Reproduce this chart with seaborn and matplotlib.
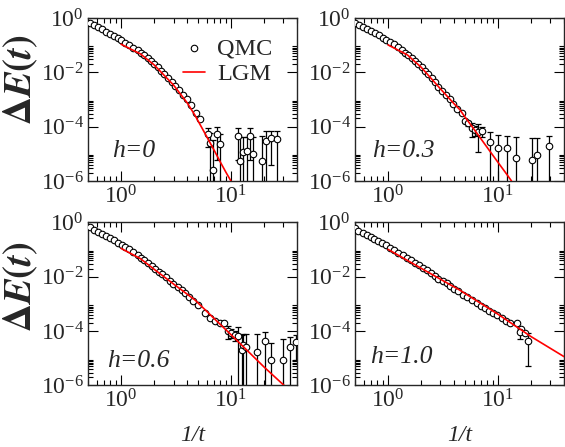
import numpy as np
import matplotlib
matplotlib.use("Agg")
import matplotlib.pyplot as plt
from matplotlib.ticker import FixedLocator, LogLocator, LogFormatterMathtext, NullFormatter
import seaborn as sns

# QMC data (1/t, Delta E, error) and LGM curves

# h = 0
qmc_x_h0 = [0.523, 0.572, 0.622, 0.676, 0.731, 0.794, 0.864, 0.933, 1.0, 1.087, 1.18, 1.29, 1.42, 1.52, 1.63,
            1.75, 1.87, 2.01, 2.15, 2.31, 2.48, 2.69, 2.89, 3.10, 3.37, 3.66, 3.95, 4.33, 4.77, 5.19,
            6.14, 6.44, 6.90, 7.46, 7.94, 11.5, 12.1, 12.9, 13.9, 14.9, 16.0, 19.0, 20.7, 23.1, 26.2]
qmc_y_h0 = [0.637, 0.538, 0.454, 0.383, 0.315, 0.265, 0.224, 0.189, 0.151, 0.124, 0.102, 0.081, 0.0648, 0.0517, 0.0424,
            0.0329, 0.0262, 0.0198, 0.0154, 0.0116, 0.00849, 0.00605, 0.00431, 0.00316, 0.00219, 0.00148, 0.00102, 6.3e-4, 3.1e-4, 1.94e-4,
            5.3e-5, 2.5e-5, 2.6e-6, 5.3e-5, 2.3e-5, 4.7e-5, 5.5e-6, 1.15e-5, 1.29e-5, 4.7e-5, 1.0e-5, 5.5e-6, 3.0e-5, 3.8e-5, 3.6e-5]
qmc_e_h0 = [0] * 30 + [3.5e-5, 3.5e-5, 3.0e-5, 4.7e-5, 3.0e-5, 4.1e-5, 3.5e-5, 3.0e-5, 3.0e-5, 4.1e-5, 3.0e-5,
                       3.8e-5, 4.0e-5, 3.4e-5, 3.6e-5]
lgm_x_h0 = [1, 1.5, 2, 3, 4, 4.71, 6, 7, 8, 9, 10]
lgm_y_h0 = [0.108, 0.0475, 0.0187, 0.0034, 7.5e-4, 2.6e-4, 4.4e-5, 1.4e-5, 5.0e-6, 2.1e-6, 1.0e-6]

# h = 0.3
qmc_x_h03 = [0.501, 0.548, 0.597, 0.649, 0.700, 0.762, 0.828, 0.895, 0.959, 1.043, 1.13, 1.24, 1.33, 1.43, 1.53,
             1.64, 1.76, 1.89, 2.02, 2.17, 2.33, 2.49, 2.67, 2.87, 3.07, 3.37, 3.66, 3.93, 4.27, 4.68,
             5.01, 5.37, 5.77, 6.18, 6.62, 7.11, 8.45, 10.1, 12.0, 14.6, 20.6, 22.9, 29.3]
qmc_y_h03 = [0.637, 0.537, 0.454, 0.383, 0.323, 0.273, 0.231, 0.189, 0.160, 0.135, 0.108, 0.0835, 0.0686, 0.0531, 0.0424,
             0.0348, 0.0270, 0.0204, 0.0154, 0.0116, 0.00873, 0.00605, 0.00431, 0.00299, 0.00207, 0.00148, 0.00102, 6.7e-4, 4.4e-4, 3.1e-4,
             1.55e-4, 1.34e-4, 8.8e-5, 7.6e-5, 6.6e-5, 7.0e-5, 2.8e-5, 1.6e-5, 1.6e-5, 7.3e-6, 5.7e-6, 8.7e-6, 1.9e-5]
qmc_e_h03 = [0] * 30 + [2.0e-5, 3.0e-5, 4.6e-5, 3.0e-5, 5.4e-5, 3.0e-5, 3.8e-5, 3.4e-5, 2.8e-5, 3.3e-5, 3.2e-5, 3.1e-5, 2.8e-5]
lgm_x_h03 = [1, 1.5, 2, 3, 4, 4.51, 5, 6, 8, 10, 12, 13.3]
lgm_y_h03 = [0.102, 0.0436, 0.0154, 2.45e-3, 6.9e-4, 4.2e-4, 2.3e-4, 8.5e-5, 1.7e-5, 4.9e-6, 1.8e-6, 1.0e-6]

# h = 0.6
qmc_x_h06 = [0.523, 0.572, 0.622, 0.676, 0.731, 0.794, 0.864, 0.933, 1.01, 1.087, 1.19, 1.29, 1.42, 1.52, 1.63,
             1.77, 1.90, 2.04, 2.21, 2.38, 2.56, 2.79, 2.99, 3.27, 3.56, 3.82, 4.15, 4.55, 5.05,
             5.8, 6.44, 7.16, 7.94, 8.7, 9.45, 10.1, 10.9, 11.7, 12.5, 12.9, 13.6, 17.1, 20.4, 23.4, 29.5, 34.4, 39.5]
qmc_y_h06 = [0.653, 0.536, 0.453, 0.382, 0.313, 0.257, 0.217, 0.178, 0.146, 0.124, 0.101, 0.0787, 0.0611, 0.0501, 0.0411,
             0.0328, 0.0255, 0.0197, 0.0153, 0.0122, 0.00948, 0.00715, 0.00555, 0.00431, 0.00325, 0.00245, 0.00175, 0.00132, 9.1e-4,
             4.8e-4, 2.95e-4, 2.4e-4, 2.04e-4, 1.94e-4, 1.03e-4, 8.7e-5, 7.4e-5, 6.6e-5, 2.1e-5, 3.1e-5, 2.5e-5, 1.75e-5, 4.4e-5, 8.4e-6, 8.4e-6, 2.5e-5, 3.9e-5]
qmc_e_h06 = [0] * 34 + [5.0e-5, 3.0e-5, 3.0e-5, 7.0e-5, 5.0e-5, 5.0e-5, 5.0e-5, 6.0e-5, 4.5e-5, 2.9e-5, 4.2e-5, 3.4e-5, 3.0e-5]
lgm_x_h06 = [1, 1.5, 2, 3, 4.71, 7, 10, 15, 20, 30.5]
lgm_y_h06 = [0.110, 0.046, 0.0187, 5.4e-3, 1.39e-3, 2.95e-4, 7.4e-5, 1.5e-5, 4.8e-6, 1.0e-6]

# h = 1.0
qmc_x_h10 = [0.5, 0.537, 0.589, 0.640, 0.695, 0.751, 0.817, 0.888, 0.959, 1.043, 1.13, 1.24, 1.36, 1.48, 1.61,
             1.76, 1.91, 2.07, 2.25, 2.44, 2.67, 2.87, 3.14, 3.41, 3.66, 3.98, 4.36, 4.84, 5.26, 5.77,
             6.40, 6.96, 7.62, 8.34, 9.07, 9.86, 10.8, 11.8, 12.9, 14.8, 16.2, 15.8, 17.6, 18.9]
qmc_y_h10 = [0.600, 0.492, 0.416, 0.351, 0.296, 0.243, 0.205, 0.169, 0.142, 0.117, 0.0959, 0.0765, 0.0611, 0.0501, 0.0411,
             0.0328, 0.0262, 0.0215, 0.0176, 0.0141, 0.0106, 0.00847, 0.00715, 0.00570, 0.00455, 0.00363, 0.0029, 2.12e-3, 1.74e-3, 1.39e-3,
             1.05e-3, 8.4e-4, 6.9e-4, 5.6e-4, 4.8e-4, 3.8e-4, 2.95e-4, 2.4e-4, 2.04e-4, 1.94e-4, 1.17e-4, 9.0e-5, 8.3e-5, 4.4e-5]
qmc_e_h10 = [0] * 41 + [4.0e-5, 0, 3.9e-5]
lgm_x_h10 = [1, 2, 4.5, 10, 20, 40]
lgm_y_h10 = [0.101, 0.0204, 3.2e-3, 4.2e-4, 6.3e-5, 1.15e-5]

panels = [
    ("h=0", qmc_x_h0, qmc_y_h0, qmc_e_h0, lgm_x_h0, lgm_y_h0),
    ("h=0.3", qmc_x_h03, qmc_y_h03, qmc_e_h03, lgm_x_h03, lgm_y_h03),
    ("h=0.6", qmc_x_h06, qmc_y_h06, qmc_e_h06, lgm_x_h06, lgm_y_h06),
    ("h=1.0", qmc_x_h10, qmc_y_h10, qmc_e_h10, lgm_x_h10, lgm_y_h10),
]

sns.set_style("ticks")
plt.rcParams["font.family"] = ["Liberation Serif", "DejaVu Serif"]
plt.rcParams["mathtext.fontset"] = "stix"
plt.rcParams["axes.linewidth"] = 1.0

fig = plt.figure(figsize=(5.65, 4.47), dpi=100)
# [left, bottom, width, height] in figure fraction
boxes = [
    [0.1558, 0.5951, 0.370, 0.3647],
    [0.6283, 0.5951, 0.370, 0.3647],
    [0.1558, 0.1376, 0.370, 0.3651],
    [0.6283, 0.1376, 0.370, 0.3651],
]
text_pos = [(0.115, 0.147), (0.081, 0.147), (0.09, 0.113), (0.072, 0.138)]

ydecades = [10.0 ** k for k in range(-6, 1, 2)]
yminor = [m * 10.0 ** k for k in range(-6, 0, 2) for m in range(2, 10)]

for i, (lab, qx, qy, qe, lx, ly) in enumerate(panels):
    ax = fig.add_axes(boxes[i])
    ax.set_xscale("log")
    ax.set_yscale("log")

    qx = np.array(qx)
    qy = np.array(qy)
    qe = np.array(qe)
    m = qe > 0
    ax.errorbar(qx[m], qy[m], yerr=qe[m], fmt="none", ecolor="black", elinewidth=0.9,
                capsize=2.2, capthick=0.9, zorder=2)
    sns.scatterplot(x=qx, y=qy, ax=ax, marker="o", s=22, color="white", edgecolor="black",
                    linewidth=0.8, zorder=3, label="QMC")
    sns.lineplot(x=lx, y=ly, ax=ax, color="red", linewidth=1.2, zorder=4, label="LGM")

    ax.set_xlim(0.5, 40)
    ax.set_ylim(1e-6, 1)
    ax.yaxis.set_major_locator(FixedLocator(ydecades))
    ax.yaxis.set_minor_locator(FixedLocator(yminor))
    ax.yaxis.set_major_formatter(LogFormatterMathtext())
    ax.yaxis.set_minor_formatter(NullFormatter())
    ax.xaxis.set_major_locator(LogLocator(base=10, subs=(1.0,)))
    ax.xaxis.set_minor_locator(LogLocator(base=10, subs=np.arange(2, 10)))
    ax.xaxis.set_minor_formatter(NullFormatter())
    ax.tick_params(which="both", direction="in", top=True, right=True, labelsize=17, width=0.8,
                   color="black")
    ax.tick_params(which="major", length=7, pad=3)
    ax.tick_params(which="minor", length=3.5)

    ax.text(text_pos[i][0], text_pos[i][1], lab, transform=ax.transAxes, fontsize=18.5,
            fontstyle="italic", va="baseline", ha="left")

    if i == 0:
        ax.legend(loc="upper right", bbox_to_anchor=(0.95, 0.97), frameon=False, fontsize=17.5,
                  handlelength=0.9, handletextpad=0.5, labelspacing=0.15, borderaxespad=0.2)
    else:
        ax.get_legend().remove()

    if i >= 2:
        ax.set_xlabel("1/t", fontsize=17, fontstyle="italic")
        ax.xaxis.set_label_coords(0.5, -0.24)

ylab = r"$\mathbf{\Delta}\mathbfit{E}\mathbf{(}\mathbfit{t}\mathbf{)}$"
fig.text(0.037, 0.823, ylab, rotation=90, fontsize=28, ha="center", va="center")
fig.text(0.037, 0.36, ylab, rotation=90, fontsize=28, ha="center", va="center")

plt.savefig("out.png", dpi=100)
